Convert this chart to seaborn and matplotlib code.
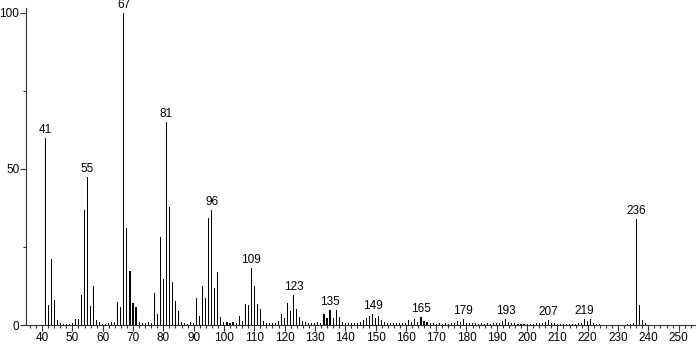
import matplotlib
matplotlib.use("Agg")
import matplotlib.pyplot as plt
import seaborn as sns
import pandas as pd
from matplotlib.ticker import MultipleLocator

mz = [41, 42, 43, 44, 45, 46, 47, 48, 49, 50,
      51, 52, 53, 54, 55, 56, 57, 58, 59, 60,
      61, 62, 63, 64, 65, 66, 67, 68, 69, 70,
      71, 72, 73, 74, 75, 76, 77, 78, 79, 80,
      81, 82, 83, 84, 85, 86, 87, 88, 89, 90,
      91, 92, 93, 94, 95, 96, 97, 98, 99, 100,
      101, 102, 103, 104, 105, 106, 107, 108, 109, 110,
      111, 112, 113, 114, 115, 116, 117, 118, 119, 120,
      121, 122, 123, 124, 125, 126, 127, 128, 129, 130,
      131, 132, 133, 134, 135, 136, 137, 138, 139, 140,
      141, 142, 143, 144, 145, 146, 147, 148, 149, 150,
      151, 152, 153, 154, 155, 156, 157, 158, 159, 160,
      161, 162, 163, 164, 165, 166, 167, 168, 169, 170,
      171, 172, 173, 174, 175, 176, 177, 178, 179, 180,
      181, 182, 183, 184, 185, 186, 187, 188, 189, 190,
      191, 192, 193, 194, 195, 196, 197, 198, 199, 200,
      201, 202, 203, 204, 205, 206, 207, 208, 209, 210,
      211, 212, 213, 214, 215, 216, 217, 218, 219, 220,
      221, 222, 223, 224, 233, 234, 235, 236, 237, 238, 239]

intensity = [60.0, 6.4, 21.0, 8.0, 1.6, 0.5, 0.4, 0.3, 0.3, 0.8,
             2.0, 2.0, 9.7, 36.9, 47.3, 6.2, 12.4, 1.5, 0.9, 0.4,
             0.4, 0.7, 0.9, 1.0, 7.5, 5.8, 100.0, 31.0, 17.4, 7.0,
             5.8, 1.0, 0.8, 0.8, 1.0, 0.5, 10.1, 3.5, 28.3, 14.7,
             65.0, 37.7, 13.7, 7.8, 4.6, 1.0, 0.8, 0.4, 1.0, 0.5,
             8.7, 3.0, 12.4, 8.5, 34.2, 36.9, 12.0, 16.9, 2.5, 1.0,
             1.0, 0.5, 1.0, 0.7, 3.0, 1.4, 6.7, 6.4, 18.2, 12.6,
             6.7, 5.1, 1.4, 0.8, 0.8, 0.5, 0.8, 1.4, 3.5, 2.4,
             6.9, 4.6, 9.6, 5.1, 2.7, 1.4, 1.0, 0.7, 0.7, 0.8,
             1.0, 0.8, 3.4, 2.4, 4.8, 2.4, 4.7, 2.6, 1.0, 0.6,
             0.7, 0.6, 0.7, 0.6, 0.9, 1.5, 2.2, 2.8, 3.4, 2.1,
             3.0, 1.6, 0.9, 0.6, 0.7, 0.5, 0.6, 0.5, 0.6, 0.7,
             1.6, 1.0, 1.8, 1.1, 2.5, 1.4, 0.9, 0.6, 0.5, 0.4,
             0.5, 0.4, 0.5, 0.4, 0.7, 0.8, 1.3, 1.0, 1.8, 0.8,
             0.6, 0.5, 0.5, 0.4, 0.5, 0.4, 0.5, 0.4, 0.6, 0.5,
             0.8, 1.3, 1.8, 1.1, 0.7, 0.5, 0.4, 0.4, 0.3, 0.3,
             0.3, 0.4, 0.6, 0.7, 0.8, 1.1, 1.6, 0.8, 0.5, 0.4,
             0.4, 0.3, 0.3, 0.3, 0.3, 0.4, 0.5, 0.8, 2.0, 1.2,
             1.8, 0.7, 0.4, 0.3, 0.3, 0.4, 0.7, 34.0, 6.4, 1.6, 0.8]

peak_labels = [41, 55, 67, 81, 96, 109, 123, 135, 149, 165, 179, 193, 207, 219, 236]

x_ticks = list(range(40, 251, 10))
y_ticks = [0, 50, 100]

df = pd.DataFrame({"mz": mz, "intensity": intensity})

sns.set_style("ticks")
plt.rcParams["font.family"] = ["Liberation Sans", "DejaVu Sans"]

fig = plt.figure(figsize=(6.96, 3.44), dpi=100)
ax = fig.add_axes([26 / 696, 1 - 325 / 344, 669 / 696, (325 - 8.3) / 344])

sns.barplot(data=df, x="mz", y="intensity", native_scale=True, width=0.36,
            color="black", linewidth=0, saturation=1, ax=ax)

ax.set_xlim(34.7, 255.4)
ax.set_ylim(0, 101.5)
ax.set_xlabel("")
ax.set_ylabel("")

ax.set_xticks(x_ticks)
ax.set_xticklabels([str(t) for t in x_ticks])
ax.xaxis.set_minor_locator(MultipleLocator(2))
ax.set_yticks(y_ticks)
ax.set_yticklabels([str(t) for t in y_ticks])
ax.yaxis.set_minor_locator(MultipleLocator(25))

ax.tick_params(axis="both", which="major", direction="out", length=4,
               width=0.8, color="#333333", labelsize=8.5, pad=1,
               labelcolor="black")
ax.tick_params(axis="y", which="major", pad=0.8)
ax.tick_params(axis="both", which="minor", direction="out", length=2.2,
               width=0.8, color="#333333")

sns.despine(ax=ax, top=True, right=True)
for side in ("left", "bottom"):
    ax.spines[side].set_linewidth(0.8)
    ax.spines[side].set_color("#333333")

lookup = dict(zip(mz, intensity))
for p in peak_labels:
    ax.annotate(str(p), xy=(p, lookup[p]), xytext=(0, 1.5),
                textcoords="offset points", ha="center", va="bottom",
                fontsize=8.5, color="black", annotation_clip=False)

fig.savefig("out.png", dpi=100)
